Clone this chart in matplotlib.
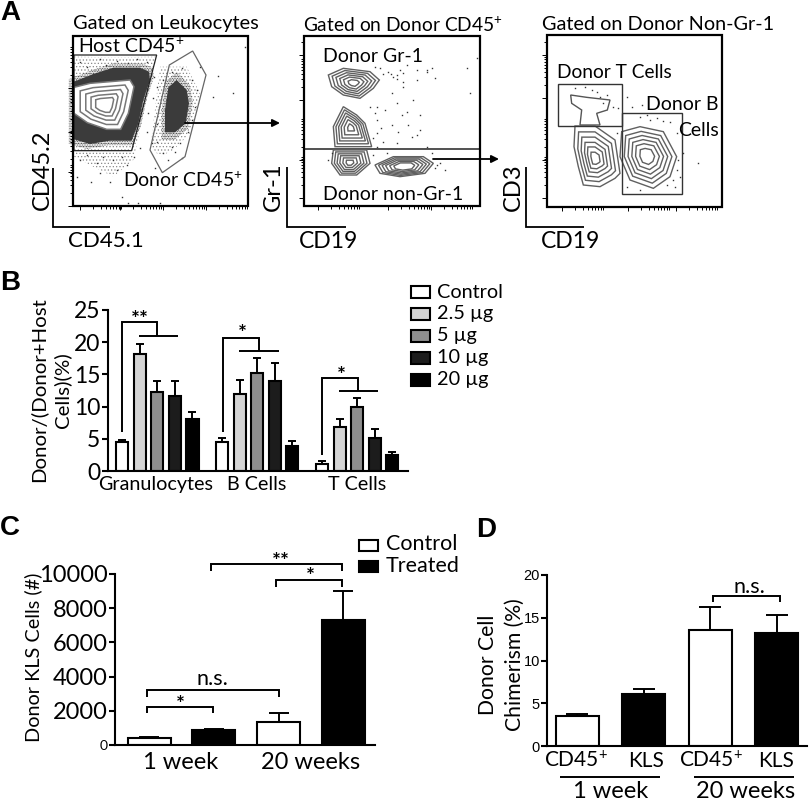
import numpy as np
import matplotlib
matplotlib.use("Agg")
import matplotlib.pyplot as plt
from matplotlib.patches import Polygon, Rectangle

plt.rcParams['font.family'] = ['Lato', 'DejaVu Sans']
plt.rcParams['mathtext.default'] = 'regular'
plt.rcParams['hatch.linewidth'] = 0.5

# ---------- data ----------
b_groups = ['Granulocytes', 'B Cells', 'T Cells']
b_series = ['Control', '2.5 µg', '5 µg', '10 µg', '20 µg']
b_colors = ['white', '#d4d4d4', '#8e8e8e', '#1c1c1c', 'black']
b_gran = [4.5, 18.1, 12.3, 11.7, 8.0]
b_gran_top = [4.8, 19.7, 13.9, 14.0, 9.2]
b_bcell = [4.5, 11.9, 15.2, 14.0, 3.9]
b_bcell_top = [5.2, 14.1, 17.5, 16.8, 4.7]
b_tcell = [1.1, 6.9, 9.9, 5.1, 2.5]
b_tcell_top = [1.5, 8.0, 11.4, 6.5, 3.0]

c_groups = ['1 week', '20 weeks']
c_values = [430, 850, 1350, 7300]
c_tops = [480, 950, 1900, 9000]

d_labels = ['CD45$^{+}$', 'KLS', 'CD45$^{+}$', 'KLS']
d_values = [3.5, 6.1, 13.6, 13.2]
d_tops = [3.8, 6.7, 16.3, 15.3]

# flow-plot outlines (reference zoom coordinates)
a1_dense_host = [(222,245),(280,222),(340,203),(420,203),(447,215),(450,240),(430,300),(415,370),(395,422),(330,422),(270,432),(222,418)]
a1_dense_donor = [(505,262),(530,240),(560,270),(567,310),(557,370),(525,397),(495,397),(495,330)]
a1_halo_host = [(222,170),(340,172),(470,170),(440,300),(400,480),(340,530),(280,500),(222,470)]
a1_halo_donor = [(480,200),(560,200),(600,280),(570,400),(520,450),(480,470),(452,440)]
a1_contour = [(222,262),(270,250),(390,240),(402,260),(385,340),(362,388),(320,388),(262,368),(222,340)]
a1_host_gate = [(222,165),(470,165),(395,452),(222,452)]
a1_donor_gate = [(508,195),(578,153),(618,225),(555,470),(487,518),(450,450)]
a1_dots = [(240,185),(262,200),(300,178),(318,195),(352,182),(385,190),(410,178),(440,185),(462,230),(470,262),(458,295),(478,320),
           (445,340),(470,372),(440,395),(455,428),(420,445),(402,470),(365,470),(380,495),(340,480),(352,510),(310,470),(290,490),
           (262,465),(240,480),(232,530),(272,545),(300,520),(330,545),(365,590),(385,610),(415,608),(480,608),(500,300),(488,240),
           (515,215),(545,205),(575,240),(590,270),(585,320),(575,360),(565,395),(540,430),(515,440),(490,460),(470,425),(505,480),
           (655,228),(700,278),(640,290),(735,140),(465,505),(525,455),(545,475),(600,200)]

a2_c1 = [(205,225),(250,205),(330,215),(358,240),(340,265),(300,295),(250,285),(215,260)]
a2_c2 = [(250,320),(290,345),(315,370),(335,440),(225,440),(220,380)]
a2_c3 = [(220,450),(320,450),(330,490),(290,525),(240,525),(215,490)]
a2_c4 = [(345,495),(400,470),(490,470),(520,490),(495,520),(420,530),(360,520)]
a2_dots = [(360,205),(385,215),(410,225),(420,210),(440,195),(470,210),(500,215),(515,205),(525,235),(470,240),(430,260),(395,280),
           (350,320),(375,330),(440,335),(480,345),(350,360),(395,375),(445,375),(480,390),(350,400),(415,395),(455,410),(370,425),
           (410,430),(500,440),(540,490),(555,510),(525,505),(620,205),(650,175),(630,280),(215,460),(205,480),(340,465),(380,460),
           (515,460),(430,245),(410,310),(460,300),(400,232),(412,238),(392,222),(428,218),(345,200),(368,222),(330,320),(345,340),
           (362,385),(338,415),(352,440),(470,405),(425,345),(500,210),(530,495)]

a3_tc = [(212,285),(260,292),(330,300),(322,330),(290,340),(300,375),(240,375),(245,330),(215,310)]
a3_c1 = [(225,378),(285,378),(345,420),(360,520),(345,535),(300,560),(250,555),(235,500),(222,440)]
a3_c2 = [(365,395),(420,380),(490,395),(530,470),(510,530),(460,565),(390,540),(360,470)]
a3_dots = [(225,265),(255,262),(290,275),(320,285),(340,320),(355,325),(380,290),(395,320),(425,315),(420,350),(440,345),
           (470,355),(510,365),(530,400),(550,460),(530,510),(540,530),(595,490),(380,560),(420,570),(500,555),(525,560),(350,400),
           (300,290),(310,310),(275,270),(450,360),(490,362),(535,480),(520,540)]

W, H = 810, 800
fig = plt.figure(figsize=(W/100, H/100), dpi=100)

def px_axes(l, t, r, b, **kw):
    return fig.add_axes([l/W, 1-b/H, (r-l)/W, (b-t)/H], **kw)

def style(ax):
    for s in ['top', 'right']:
        ax.spines[s].set_visible(False)
    for s in ['left', 'bottom']:
        ax.spines[s].set_linewidth(1.5)
    ax.tick_params(width=1.5, length=4.5, pad=1.0)

# ---------- Panel B ----------
axb = px_axes(108, 310, 408, 471)
style(axb)
b_vals = [b_gran, b_bcell, b_tcell]
b_tops = [b_gran_top, b_bcell_top, b_tcell_top]
for g in range(3):
    for s in range(5):
        x = 14 + 100*g + 17.6*s
        axb.bar(x, b_vals[g][s], width=12.2, color=b_colors[s], edgecolor='black', linewidth=1.5)
        axb.errorbar(x, b_vals[g][s], yerr=[[0], [b_tops[g][s]-b_vals[g][s]]], color='black',
                     capsize=3, elinewidth=1.4, capthick=1.4, zorder=1)
axb.set_xlim(0, 300)
axb.set_ylim(0, 25)
axb.set_yticks([0, 5, 10, 15, 20, 25])
axb.set_xticks([48, 149, 249])
axb.set_xticklabels(b_groups)
axb.tick_params(axis='x', length=0, pad=3.5, labelsize=14.2)
axb.tick_params(axis='y', labelsize=16.5)

# ---------- Panel C ----------
axc = px_axes(115, 574, 375, 745)
style(axc)
c_pos = [34, 98.5, 163.5, 228]
c_cols = ['white', 'black', 'white', 'black']
for x, v, t, col in zip(c_pos, c_values, c_tops, c_cols):
    axc.bar(x, v, width=43, color=col, edgecolor='black', linewidth=1.5)
    axc.errorbar(x, v, yerr=[[0], [t-v]], color='black', capsize=7.5, elinewidth=1.4, capthick=1.4, zorder=1)
axc.set_xlim(0, 260)
axc.set_ylim(0, 10000)
axc.set_yticks([0, 2000, 4000, 6000, 8000, 10000])
axc.set_xticks([66, 196])
axc.set_xticklabels(c_groups)
axc.tick_params(axis='x', length=0, pad=5, labelsize=17)
axc.tick_params(axis='y', labelsize=17)
axc.get_yticklabels()[0].set_fontsize(10)

# ---------- Panel D ----------
axd = px_axes(547, 575, 807, 746)
style(axd)
d_pos = [30, 96.5, 163, 229.5]
for x, v, t, col in zip(d_pos, d_values, d_tops, c_cols):
    axd.bar(x, v, width=43, color=col, edgecolor='black', linewidth=1.5)
    axd.errorbar(x, v, yerr=[[0], [t-v]], color='black', capsize=8, elinewidth=1.4, capthick=1.4, zorder=1)
axd.set_xlim(0, 260)
axd.set_ylim(0, 20)
axd.set_yticks([0, 5, 10, 15, 20])
axd.set_xticks([])
axd.tick_params(axis='y', labelsize=10.5, length=4, pad=1)
for lab in axd.get_yticklabels():
    lab.set_fontfamily('Liberation Sans')

# ---------- overlay in reference pixels ----------
ov = fig.add_axes([0, 0, 1, 1], facecolor='none')
ov.set_xlim(0, W)
ov.set_ylim(H, 0)
ov.axis('off')

def T(x, y, s, size=14.2, ha='center', va='center', **kw):
    ov.text(x, y, s, fontsize=size, ha=ha, va=va, **kw)

def L(xs, ys, lw=1.4, color='black'):
    ov.plot(xs, ys, color=color, lw=lw, solid_joinstyle='miter', solid_capstyle='butt')

for s, x, y in [('A', 10, 13), ('B', 10, 283), ('C', 10, 528), ('D', 486, 530)]:
    T(x, y, s, size=20, fontweight='bold', family='Liberation Sans')

# B text
T(38, 390, 'Donor/(Donor+Host', size=14.7, rotation=90)
T(62, 390, 'Cells)(%)', size=14.7, rotation=90)
for i, (name, col) in enumerate(zip(b_series, b_colors)):
    y = 292 + 22*i
    ov.add_patch(Rectangle((411, y-6), 19, 12, fc=col, ec='black', lw=1.5))
    T(437, y, name, size=14.3, ha='left')
L([122, 122, 157, 157], [432, 322, 322, 336]); L([139, 178], [336, 336])
L([223, 223, 259, 259], [432, 338, 338, 351]); L([239, 279], [351, 351])
L([322, 322, 358, 358], [455, 378, 378, 391]); L([339, 378], [391, 391])
T(140, 320, '**', size=15, fontweight='bold')
T(242, 334, '*', size=15, fontweight='bold')
T(341, 376, '*', size=15, fontweight='bold')

# C text
T(33, 657, 'Donor KLS Cells (#)', size=14.3, rotation=90)
ov.add_patch(Rectangle((359, 540), 19, 11, fc='white', ec='black', lw=1.5))
ov.add_patch(Rectangle((359, 561), 19, 11, fc='black', ec='black', lw=1.5))
T(386, 544, 'Control', size=15.5, ha='left')
T(386, 566, 'Treated', size=15.5, ha='left')
L([211, 211, 342, 342], [571, 564, 564, 571])
L([276, 276, 342, 342], [587, 580, 580, 587])
L([147, 147, 279, 279], [697, 690, 690, 697])
L([147, 147, 213, 213], [713, 707, 707, 713])
T(281, 562, '**', size=15, fontweight='bold')
T(310, 577, '*', size=15, fontweight='bold')
T(180, 705, '*', size=15, fontweight='bold')
T(212, 679, 'n.s.', size=15.5)

# D text
T(488, 665, 'Donor Cell', size=15.2, rotation=90)
T(515, 665, 'Chimerism (%)', size=15.2, rotation=90)
L([713, 713, 780, 780], [602, 596, 596, 602])
T(749, 587, 'n.s.', size=15.5)
for x, lab in zip([576, 646, 711, 776], d_labels):
    T(x, 761, lab, size=15)
L([560, 660], [777, 777]); L([694, 794], [777, 777])
T(611, 791, '1 week', size=17)
T(746, 791, '20 weeks', size=17)

# ---------- Panel A ----------
def zc(pts, ox=0):
    return [(ox + x/3, y/3) for x, y in pts]

def fill(pts, ox=0, fc='#3b3b3b', z=2):
    ov.add_patch(Polygon(zc(pts, ox), closed=True, fc=fc, ec='none', zorder=z))

def halo(pts, ox=0, hatch='........', k=1.0, ec='#666666'):
    p = np.array(zc(pts, ox))
    c = p.mean(axis=0)
    ov.add_patch(Polygon(c + (p-c)*k, closed=True, fc='none', ec=ec, lw=0, hatch=hatch, zorder=1.5))

def nested(pts, ox, scales, lw=1.0, fc='none', ec='#606060', z=3):
    pts = np.array(zc(pts, ox))
    c = pts.mean(axis=0)
    for k in scales:
        ov.add_patch(Polygon(c + (pts-c)*k, closed=True, fc=fc, ec=ec, lw=lw, zorder=z))

def box(l, t, r, b, xdec, ydec):
    ov.add_patch(Rectangle((l, t), r-l, b-t, fc='none', ec='black', lw=1.6, zorder=6))
    for d in xdec:
        for m in range(1, 10):
            x = d + 43*np.log10(m)
            if x < r:
                L([x, x], [b, b+(4 if m == 1 else 2.5)], lw=0.7)
    for d in ydec:
        for m in range(1, 10):
            y = d - 43*np.log10(m)
            if y > t:
                L([l-(5 if m == 1 else 3), l], [y, y], lw=0.7)

def stub(x, top, bot, right):
    L([x, x, right], [top, bot, bot], lw=1.3)

def arrow(x0, x1, y):
    ov.annotate('', xy=(x1, y), xytext=(x0, y), zorder=7,
                arrowprops=dict(arrowstyle='-|>', color='black', lw=1.3, shrinkA=0, shrinkB=0, mutation_scale=11))

def dots(pts, ox=0):
    dx, dy = zip(*zc(pts, ox))
    ov.plot(dx, dy, ls='none', marker='s', ms=1.0, mfc='#333333', mec='none', zorder=3)

# A1
halo(a1_halo_host, hatch='.....', ec='#888888'); halo(a1_halo_donor, hatch='.....', ec='#888888')
halo(a1_dense_host, hatch='..........', k=1.12, ec='#333333')
halo(a1_dense_donor, hatch='..........', k=1.3, ec='#333333')
fill(a1_dense_host); fill(a1_dense_donor)
dots(a1_dots)
nested(a1_contour, 0, [1.0, 0.8, 0.62, 0.45, 0.3], fc='white', ec='#777777', lw=1.1)
ov.add_patch(Polygon(zc(a1_host_gate), closed=True, fc='none', ec='#222222', lw=0.9, zorder=4))
ov.add_patch(Polygon(zc(a1_donor_gate), closed=True, fc='none', ec='#666666', lw=0.9, zorder=4))
box(73, 36, 248, 206, [80, 120, 163, 206], [206, 172, 132, 88])
stub(53, 168, 227, 110)
T(166, 23, 'Gated on Leukocytes', size=14.4)
T(78, 46, 'Host CD45$^{+}$', ha='left', zorder=8, size=14)
T(123, 180, 'Donor CD45$^{+}$', ha='left', zorder=8, size=14)
T(42, 170, 'CD45.2', size=17, rotation=90)
T(106, 241, 'CD45.1', size=16)
arrow(185, 280, 123)

# A2
ox = 260
nested(a2_c1, ox, [1.0, 0.85, 0.7, 0.55, 0.4, 0.22])
nested(a2_c2, ox, [1.0, 0.85, 0.7, 0.55, 0.38, 0.18])
nested(a2_c3, ox, [1.0, 0.85, 0.7, 0.55, 0.38, 0.2])
nested(a2_c4, ox, [1.0, 0.88, 0.76, 0.64, 0.5, 0.36])
dots(a2_dots, ox)
box(304, 36, 480, 206, [318, 388, 431], [198, 160, 100, 55])
L([304, 480], [149, 149], lw=1.1, color='#222222')
stub(287, 167, 227, 346)
T(403, 25, 'Gated on Donor CD45$^{+}$', size=13.8)
T(323, 56, 'Donor Gr-1', ha='left', zorder=8, size=14)
T(323, 195, 'Donor non-Gr-1', ha='left', zorder=8, size=14)
T(273, 187, 'Gr-1', size=17, rotation=90)
T(329, 241, 'CD19', size=16.5)
arrow(433, 499, 159)

# A3
ox = 500
nested(a3_tc, ox, [1.0], ec='#555555')
nested(a3_c1, ox, [1.0, 0.82, 0.66, 0.5, 0.36, 0.2])
nested(a3_c2, ox, [1.0, 0.84, 0.7, 0.56, 0.42, 0.26])
dots(a3_dots, ox)
ov.add_patch(Rectangle((500+173/3, 252/3), 192/3, 126/3, fc='none', ec='#333333', lw=1.0, zorder=4))
ov.add_patch(Rectangle((500+365/3, 340/3), 182/3, 243/3, fc='none', ec='#333333', lw=1.0, zorder=4))
box(547, 35, 722, 207, [562, 628, 676], [198, 160, 98, 55])
stub(526, 167, 227, 584)
T(658, 25, 'Gated on Donor Non-Gr-1', size=14.3)
T(557, 72, 'Donor T Cells', ha='left', zorder=8, size=13.8)
T(719, 104, 'Donor B', ha='right', zorder=8, size=14)
T(719, 131, 'Cells', ha='right', zorder=8, size=14)
T(513, 187, 'CD3', size=17, rotation=90)
T(570, 241, 'CD19', size=16.5)

fig.savefig('out.png', dpi=100)
